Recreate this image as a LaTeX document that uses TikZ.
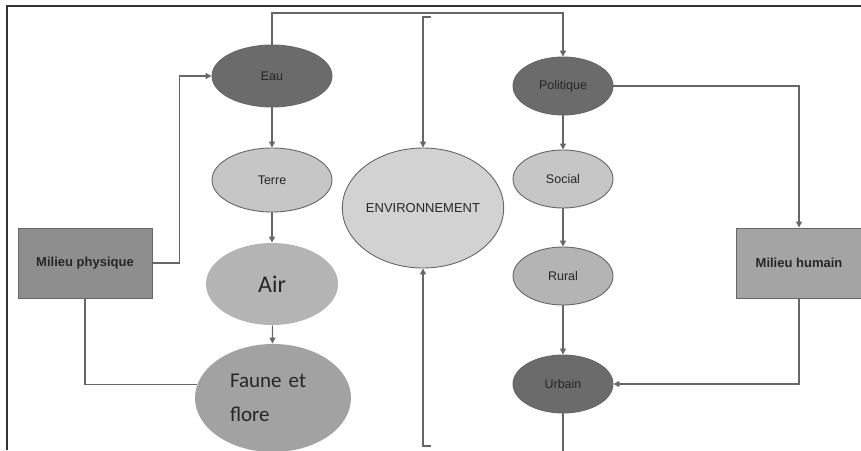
\documentclass[tikz,border=0pt]{standalone}
\usepackage{fontspec}
\setmainfont{Liberation Sans}
\newfontfamily\bigfont{Carlito}
\usetikzlibrary{shapes.geometric,arrows.meta}
\definecolor{linegray}{HTML}{666666}
\definecolor{darkfill}{HTML}{6B6B6B}
\definecolor{lightfill}{HTML}{C6C6C6}
\definecolor{midfill}{HTML}{B4B4B4}
\definecolor{faunefill}{HTML}{A2A2A2}
\definecolor{envfill}{HTML}{D2D2D2}
\definecolor{physfill}{HTML}{8E8E8E}
\definecolor{humfill}{HTML}{A4A4A4}

\begin{document}
\begin{tikzpicture}[x=1pt,y=-1pt,
  ell/.style={ellipse, draw=linegray, line width=0.9pt, inner sep=0pt, text=black!85,
    font=\fontsize{12.5}{14}\selectfont},
  box/.style={rectangle, draw=linegray, line width=0.9pt, inner sep=0pt,
    minimum height=70pt, text=black!85, font=\fontsize{13}{15}\selectfont\bfseries},
  arr/.style={linegray, line width=1.2pt, -{Triangle[length=6pt,width=6pt]}},
  lin/.style={linegray, line width=1.2pt}]
\useasboundingbox (0,0) rectangle (861,450);
\draw[line width=2pt, black!80] (7,450) -- (7,6) -- (861,6);

\node[ell, fill=darkfill, minimum width=120pt, minimum height=62pt] (eau) at (272,76) {Eau};
\node[ell, fill=lightfill, minimum width=120pt, minimum height=64pt] (terre) at (272,180) {Terre};
\node[ell, fill=midfill, draw=none, minimum width=132pt, minimum height=82pt,
  font=\bigfont\fontsize{24}{26}\selectfont] (air) at (272,284) {Air};
\node[ell, fill=faunefill, draw=none, minimum width=156pt, minimum height=108pt,
  text width=86pt, align=left, font=\bigfont\fontsize{21}{34}\selectfont] (faune) at (273,398) {Faune et\\flore};
\node[ell, fill=envfill, minimum width=130pt, minimum height=120pt,
  font=\fontsize{13}{15}\selectfont] (env) at (423,208) {ENVIRONNEMENT};
\node[ell, fill=darkfill, minimum width=100pt, minimum height=58pt] (politique) at (563,86) {Politique};
\node[ell, fill=lightfill, minimum width=100pt, minimum height=58pt] (social) at (563,179) {Social};
\node[ell, fill=midfill, minimum width=100pt, minimum height=58pt] (rural) at (563,276) {Rural};
\node[ell, fill=darkfill, minimum width=100pt, minimum height=58pt] (urbain) at (563,384) {Urbain};
\node[box, fill=physfill, minimum width=134pt] (phys) at (85,263) {Milieu physique};
\node[box, fill=humfill, minimum width=126pt] (hum) at (799,263) {Milieu humain};

\coordinate (top) at (420,13);
\coordinate (envin) at (431,17);
\coordinate (envbot) at (431,446);
\coordinate (urbout) at (563,452);

\draw[arr] (eau.north) |- (top) -| (politique.north);
\draw[arr] (envin) -| (env.north);
\draw[arr] (envbot) -| (env.south);
\draw[lin] (urbain.south) -- (urbout);
\draw[arr] (phys.east) -- ++(27,0) |- (eau.west);
\draw[lin] (phys.south) |- (faune.170);
\draw[arr] (eau) -- (terre);
\draw[arr] (terre) -- (air);
\draw[arr] (air) -- (faune);
\draw[arr] (politique) -- (social);
\draw[arr] (social) -- (rural);
\draw[arr] (rural) -- (urbain);
\draw[arr] (politique.east) -| (hum.north);
\draw[arr] (hum.south) |- (urbain.east);
\end{tikzpicture}
\end{document}
